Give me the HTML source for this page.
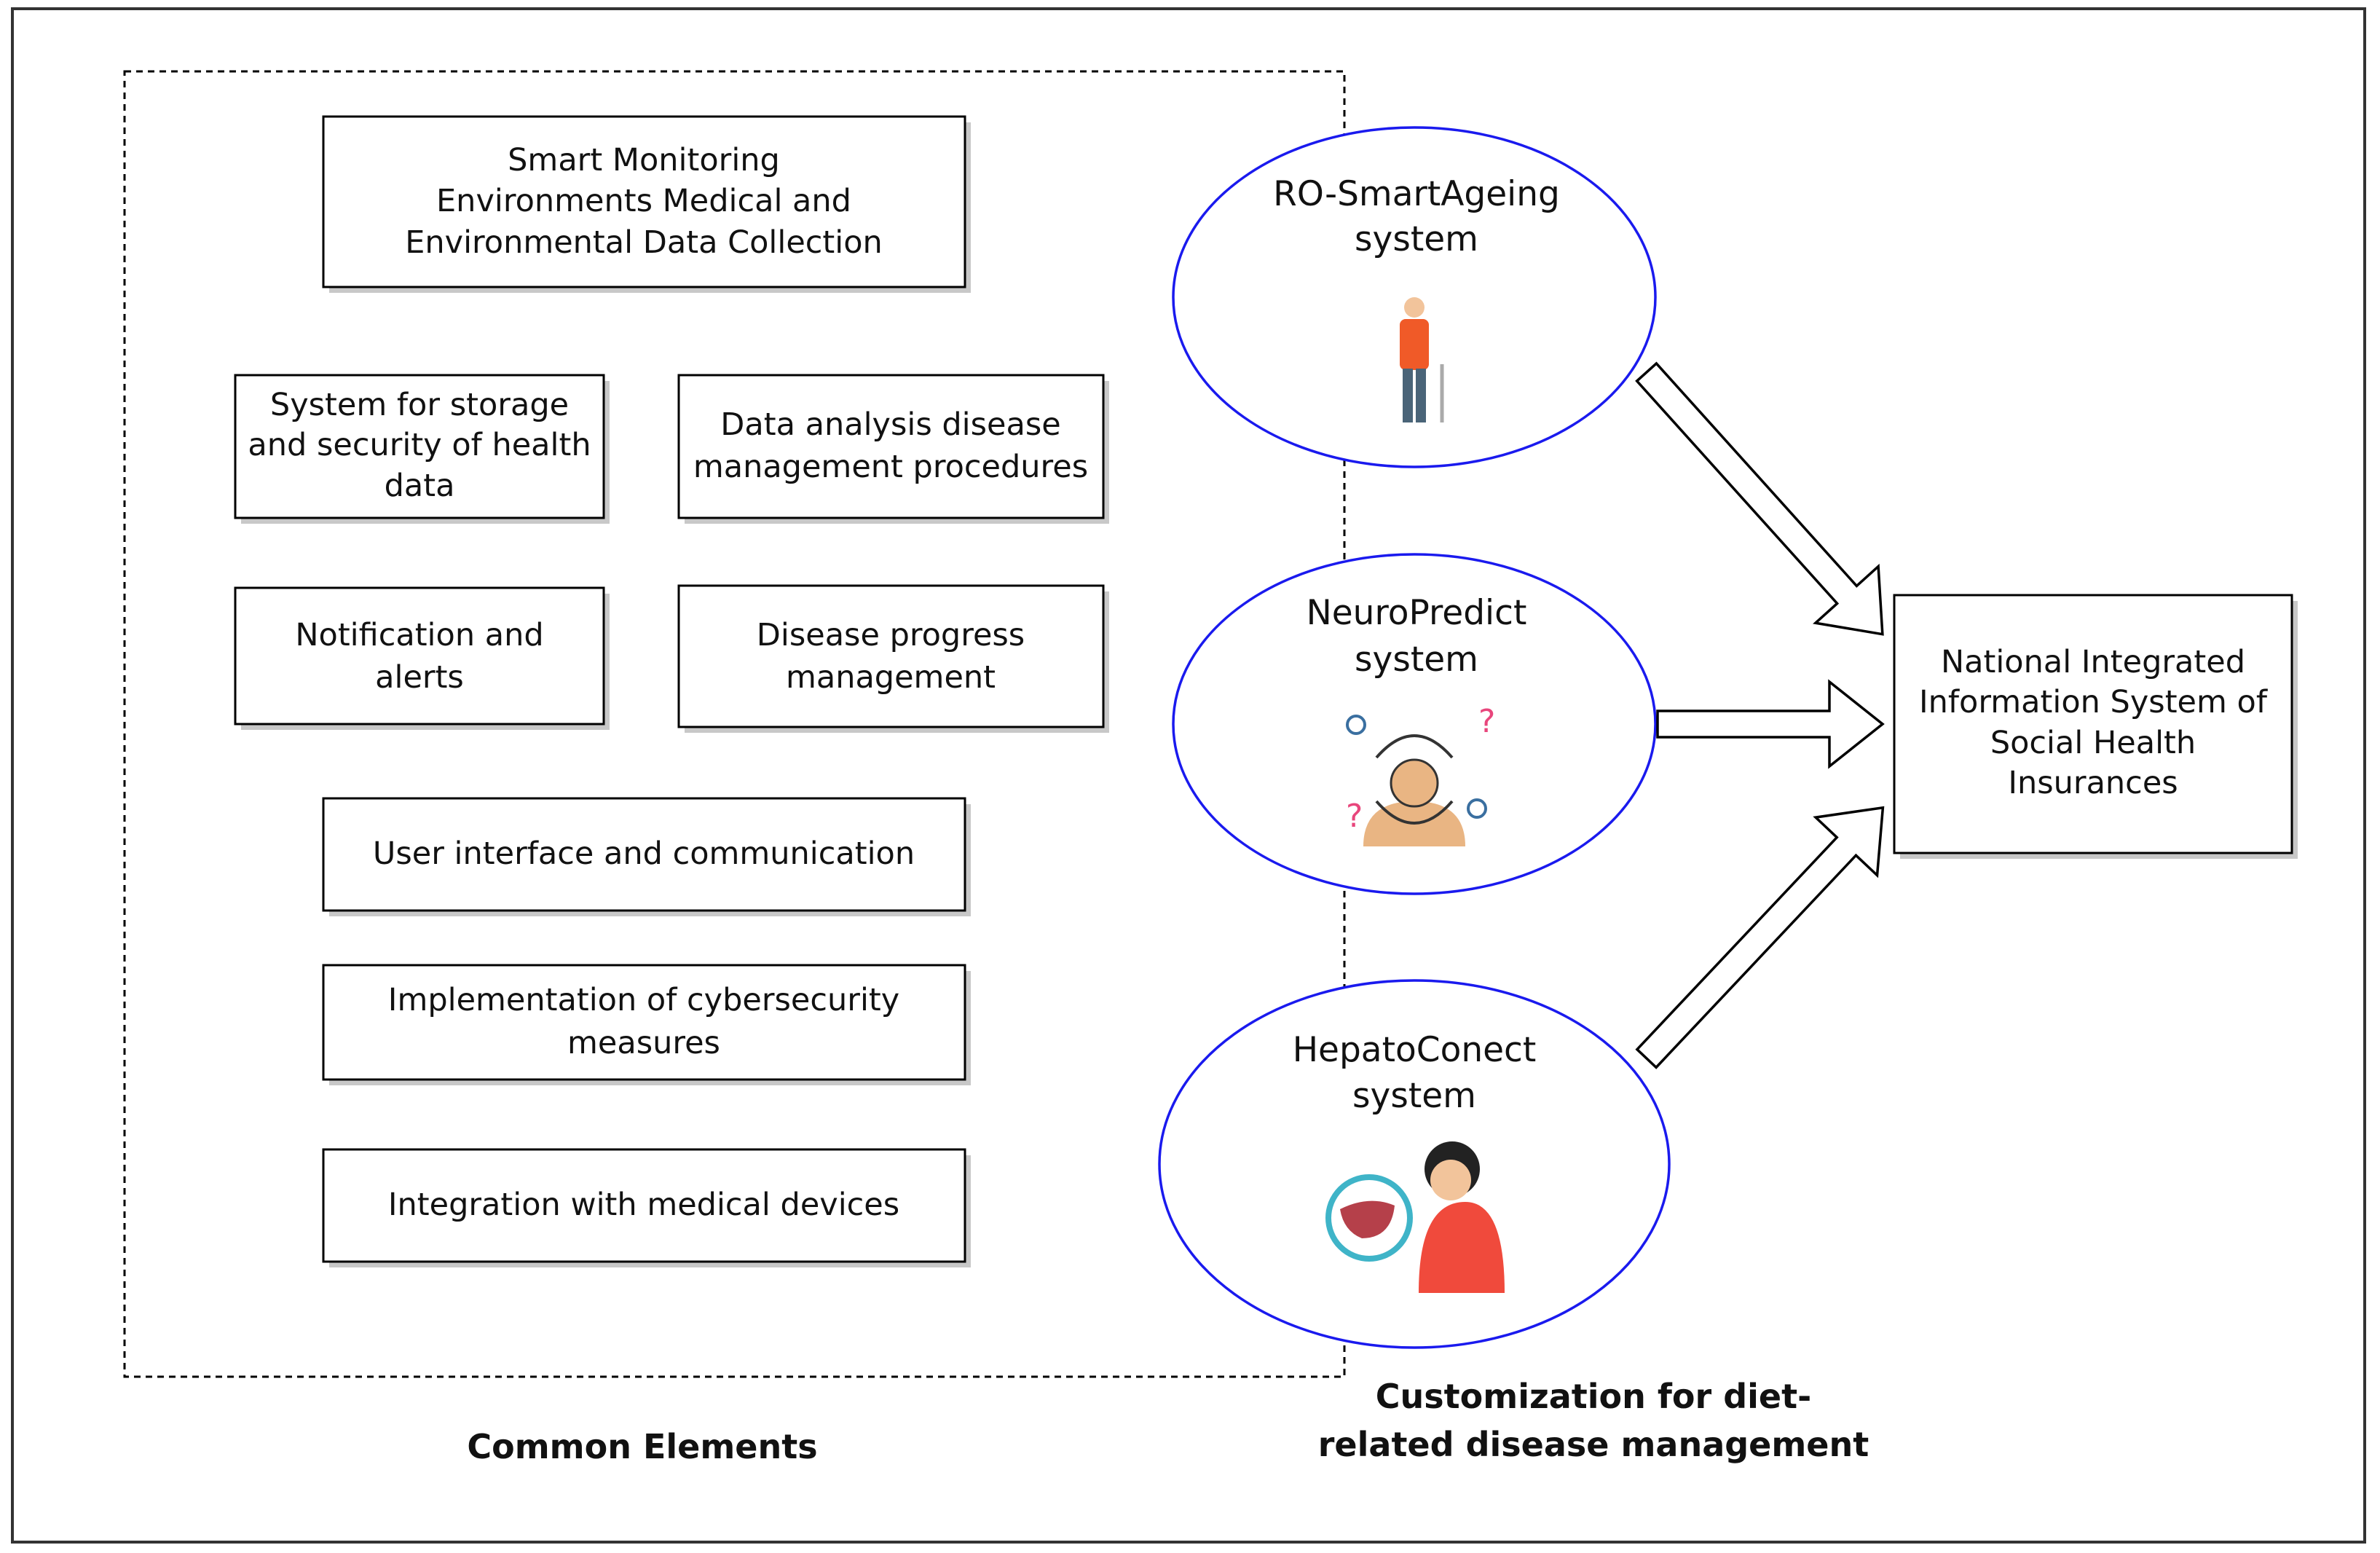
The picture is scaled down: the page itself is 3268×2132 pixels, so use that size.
<!DOCTYPE html>
<html><head><meta charset="utf-8"><style>
html,body{margin:0;padding:0;background:#fff;}
svg{display:block;font-family:"DejaVu Sans","Liberation Sans",sans-serif;}
</style></head><body>
<svg width="3268" height="2132" viewBox="0 0 3268 2132" xmlns="http://www.w3.org/2000/svg">
<rect x="17" y="12" width="3230" height="2105" fill="#fff" stroke="#333" stroke-width="4"/>
<rect x="171" y="98" width="1675" height="1792" fill="none" stroke="#000" stroke-width="3" stroke-dasharray="9,7"/>
<g fill="#c8c8c8">
<rect x="452" y="168" width="881" height="234"/>
<rect x="331" y="523" width="506" height="196"/>
<rect x="940" y="523" width="583" height="196"/>
<rect x="331" y="815" width="506" height="187"/>
<rect x="940" y="812" width="583" height="194"/>
<rect x="452" y="1104" width="881" height="154"/>
<rect x="452" y="1333" width="881" height="157"/>
<rect x="452" y="1586" width="881" height="154"/>
<rect x="2609" y="825" width="546" height="354"/>
</g>
<g fill="#fff" stroke="#000" stroke-width="3">
<rect x="444" y="160" width="881" height="234"/>
<rect x="323" y="515" width="506" height="196"/>
<rect x="932" y="515" width="583" height="196"/>
<rect x="323" y="807" width="506" height="187"/>
<rect x="932" y="804" width="583" height="194"/>
<rect x="444" y="1096" width="881" height="154"/>
<rect x="444" y="1325" width="881" height="157"/>
<rect x="444" y="1578" width="881" height="154"/>
<rect x="2601" y="817" width="546" height="354"/>
</g>
<g font-size="43" text-anchor="middle" fill="#111">
<text x="884" y="234">Smart Monitoring</text>
<text x="884" y="290">Environments Medical and</text>
<text x="884" y="347">Environmental Data Collection</text>
<text x="576" y="570">System for storage</text>
<text x="576" y="625">and security of health</text>
<text x="576" y="681">data</text>
<text x="1223" y="597">Data analysis disease</text>
<text x="1223" y="655">management procedures</text>
<text x="576" y="886">Notification and</text>
<text x="576" y="944">alerts</text>
<text x="1223" y="886">Disease progress</text>
<text x="1223" y="944">management</text>
<text x="884" y="1186">User interface and communication</text>
<text x="884" y="1387">Implementation of cybersecurity</text>
<text x="884" y="1446">measures</text>
<text x="884" y="1668">Integration with medical devices</text>
<text x="2874" y="923">National Integrated</text>
<text x="2874" y="978">Information System of</text>
<text x="2874" y="1034">Social Health</text>
<text x="2874" y="1089">Insurances</text>
</g>
<g fill="#fff" stroke="#1a1aee" stroke-width="3.5">
<ellipse cx="1942" cy="408" rx="331" ry="233"/>
<ellipse cx="1942" cy="994" rx="331" ry="233"/>
<ellipse cx="1942" cy="1598" rx="350" ry="252"/>
</g>
<g font-size="47" text-anchor="middle" fill="#111">
<text x="1945" y="282">RO-SmartAgeing</text>
<text x="1945" y="344">system</text>
<text x="1945" y="857">NeuroPredict</text>
<text x="1945" y="921">system</text>
<text x="1942" y="1457">HepatoConect</text>
<text x="1942" y="1520">system</text>
</g>
<g>
<circle cx="1942" cy="422" r="14" fill="#f2c49b"/>
<rect x="1922" y="438" width="40" height="70" rx="8" fill="#f05a28"/>
<rect x="1926" y="506" width="14" height="74" fill="#4a6478"/>
<rect x="1944" y="506" width="14" height="74" fill="#4a6478"/>
<line x1="1980" y1="500" x2="1980" y2="580" stroke="#aaa" stroke-width="5"/>
</g>
<g>
<path d="M1872 1162 Q1872 1100 1942 1100 Q2012 1100 2012 1162 Z" fill="#e9b583"/>
<circle cx="1942" cy="1075" r="32" fill="#e9b583" stroke="#333" stroke-width="3"/>
<path d="M1890 1040 Q1942 980 1994 1040" fill="none" stroke="#333" stroke-width="4"/>
<path d="M1890 1100 Q1942 1160 1994 1100" fill="none" stroke="#333" stroke-width="4"/>
<text x="2030" y="1005" font-size="44" fill="#e8467c">?</text>
<text x="1848" y="1135" font-size="44" fill="#e8467c">?</text>
<circle cx="1862" cy="995" r="12" fill="none" stroke="#3a6fa0" stroke-width="4"/>
<circle cx="2028" cy="1110" r="12" fill="none" stroke="#3a6fa0" stroke-width="4"/>
</g>
<g>
<path d="M1948 1775 Q1948 1650 2012 1650 Q2066 1650 2066 1775 Z" fill="#f04a3c"/>
<circle cx="1994" cy="1605" r="38" fill="#222"/>
<circle cx="1992" cy="1620" r="28" fill="#f2c49b"/>
<circle cx="1880" cy="1672" r="56" fill="#fff" stroke="#3fb4c8" stroke-width="8"/>
<path d="M1840 1660 Q1880 1640 1915 1655 Q1910 1700 1870 1700 Q1845 1690 1840 1660Z" fill="#b5404a"/>
</g>
<g fill="#fff" stroke="#000" stroke-width="3.5">
<polygon points="2276,976 2512,976 2512,936 2585,994 2512,1052 2512,1012 2276,1012"/>
<g transform="translate(2261,511) rotate(48)">
<polygon points="0,-18 411,-18 411,-58 484,0 411,58 411,18 0,18"/>
</g>
<g transform="translate(2261,1453) rotate(-46.7)">
<polygon points="0,-18 400,-18 400,-58 473,0 400,58 400,18 0,18"/>
</g>
</g>
<g font-size="46" font-weight="bold" text-anchor="middle" fill="#111">
<text x="882" y="2002">Common Elements</text>
<text x="2188" y="1933">Customization for diet-</text>
<text x="2188" y="1999">related disease management</text>
</g>
</svg>
</body></html>
